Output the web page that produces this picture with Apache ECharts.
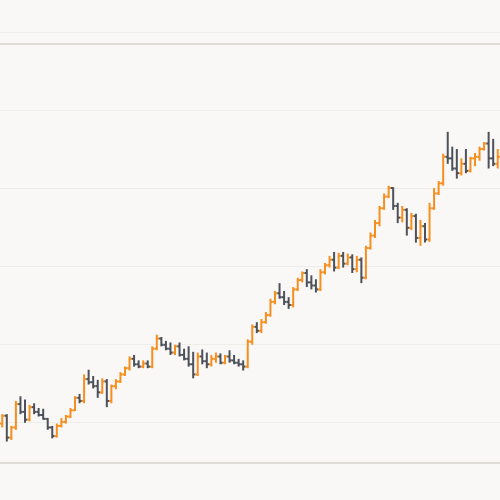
<!DOCTYPE html>
<html>
<head>
<meta charset="utf-8">
<style>
  html, body { margin: 0; padding: 0; background: #f9f8f6; }
  #chart { width: 500px; height: 500px; }
</style>
<script src="https://cdn.jsdelivr.net/npm/echarts@6/dist/echarts.min.js"></script>
</head>
<body>
<div id="chart"></div>
<script>
// OHLC values
const opens = [
  109.8,110.8,108.0,109.3,112.3,111.3,110.3,111.9,111.3,110.9,
  110.4,109.3,108.2,109.5,110.0,110.7,111.5,113.1,112.7,115.5,
  115.1,114.6,113.8,115.2,112.7,114.6,115.2,116.1,116.9,118.1,
  117.4,117.1,117.5,117.1,119.4,120.7,119.9,119.4,118.9,119.7,
  118.6,118.1,117.4,116.1,118.4,117.8,117.4,118.1,118.4,117.6,
  118.4,117.9,117.6,117.4,117.1,120.3,122.2,121.7,122.8,123.7,
  125.4,126.5,126.0,125.4,125.0,127.0,128.2,129.1,127.9,127.5,
  127.0,129.2,130.1,130.8,129.8,131.3,130.3,131.1,129.6,130.8,
  128.5,132.3,133.9,135.5,137.4,138.9,140.0,137.7,136.2,137.2,
  134.9,136.4,133.6,135.1,133.4,137.4,139.3,140.6,144.0,143.8,
  142.5,141.9,143.1,142.2,143.8,144.0,145.0,145.7,143.8,143.1
];
const closes = [
  110.8,108.0,109.3,112.3,111.3,110.3,111.9,111.3,110.9,110.4,
  109.3,108.2,109.5,110.0,110.7,111.5,113.1,112.7,115.5,115.1,
  114.6,113.8,115.2,112.7,114.6,115.2,116.1,116.9,118.1,117.4,
  117.1,117.5,117.1,119.4,120.7,119.9,119.4,118.9,119.7,118.6,
  118.1,117.4,116.1,118.4,117.8,117.4,118.1,118.4,117.6,118.4,
  117.9,117.6,117.4,117.1,120.3,122.2,121.7,122.8,123.7,125.4,
  126.5,126.0,125.4,125.0,127.0,128.2,129.1,127.9,127.5,127.0,
  129.2,130.1,130.8,129.8,131.3,130.3,131.1,129.6,130.8,128.5,
  132.3,133.9,135.5,137.4,138.9,140.0,137.7,136.2,137.2,134.9,
  136.4,133.6,135.1,133.4,137.4,139.3,140.6,144.0,143.8,142.5,
  141.9,143.1,142.2,143.8,144.0,145.0,145.7,143.8,143.1,144.0
];
const lows = [
  109.3,107.5,107.7,109.0,111.0,109.9,110.1,111.0,110.7,110.3,
  109.0,107.9,108.0,109.3,109.8,110.5,111.4,112.4,112.4,114.8,
  114.3,113.1,113.6,111.9,112.4,114.2,115.0,115.9,116.6,117.1,
  116.9,116.9,116.9,116.9,119.2,119.7,119.2,118.6,118.6,118.4,
  117.9,117.1,115.6,115.9,117.4,116.9,117.1,117.6,117.4,117.4,
  117.6,117.4,117.1,116.6,116.9,119.9,121.4,121.4,122.6,123.5,
  125.1,125.8,125.0,124.5,124.7,126.8,127.9,127.3,127.0,126.6,
  126.8,128.9,129.8,129.3,129.6,129.8,130.1,129.1,129.2,127.8,
  128.3,132.1,133.6,135.1,137.2,138.7,137.2,135.5,135.6,133.9,
  134.6,133.0,132.6,133.0,133.1,137.2,139.1,140.3,143.1,142.2,
  141.2,141.6,141.9,142.0,142.8,143.5,144.8,142.5,142.8,142.5
];
const highs = [
  111.0,111.0,109.5,112.7,113.3,112.9,112.2,112.4,111.8,111.7,
  110.5,109.5,109.8,110.5,110.9,111.8,113.3,113.6,116.1,116.7,
  115.9,115.4,115.6,115.5,114.8,115.5,116.4,117.1,118.4,118.6,
  117.9,117.9,117.9,119.7,121.2,120.9,120.4,120.2,119.9,120.2,
  119.4,119.7,119.0,118.9,119.3,118.9,118.6,118.9,118.8,118.6,
  119.2,118.6,118.1,117.9,120.6,122.5,122.8,123.2,124.1,125.8,
  126.8,127.8,126.8,126.0,127.3,128.5,129.3,129.6,128.8,128.3,
  129.6,130.4,131.3,131.8,131.7,131.8,131.6,131.5,131.3,131.1,
  132.6,134.3,135.9,137.7,139.3,140.3,140.1,138.1,137.7,137.4,
  136.8,136.7,135.9,135.5,138.1,140.0,140.9,144.4,147.2,145.3,
  145.0,143.8,145.0,144.0,144.5,145.3,145.9,147.2,146.3,145.0
];
const yTicks = { min: 100, max: 160, interval: 10 };

const UP = '#f68f1f';
const DOWN = '#4d515a';

const categories = opens.map((_, i) => String(i + 1));
const ohlcData = opens.map((o, i) => [i, o, closes[i], lows[i], highs[i]]);

const chart = echarts.init(document.getElementById('chart'), null, { renderer: 'canvas' });

chart.setOption({
  backgroundColor: '#f9f8f6',
  animation: false,
  grid: [
    { left: -2, right: -2, top: 32, bottom: -5, containLabel: false },
    { left: 0, right: 0, top: 44, bottom: 37, containLabel: false }
  ],
  xAxis: [
    {
      type: 'category', gridIndex: 0, data: categories, boundaryGap: true,
      axisLine: { show: false }, axisTick: { show: false }, axisLabel: { show: false },
      splitLine: { show: false }
    },
    {
      type: 'category', gridIndex: 1, data: ['a'], position: 'bottom',
      axisLine: { show: true, lineStyle: { color: '#dfdcd8', width: 2 } },
      axisTick: { show: false }, axisLabel: { show: false }, splitLine: { show: false }
    },
    {
      type: 'category', gridIndex: 1, data: ['a'], position: 'top',
      axisLine: { show: true, lineStyle: { color: '#dfdcd8', width: 2 } },
      axisTick: { show: false }, axisLabel: { show: false }, splitLine: { show: false }
    }
  ],
  yAxis: [
    {
      type: 'value', gridIndex: 0, min: yTicks.min, max: yTicks.max, interval: yTicks.interval,
      axisLine: { show: false }, axisTick: { show: false }, axisLabel: { show: false },
      splitLine: { show: true, lineStyle: { color: '#efedea', width: 1 } }
    },
    {
      type: 'value', gridIndex: 1, min: 0, max: 1,
      axisLine: { show: false }, axisTick: { show: false }, axisLabel: { show: false },
      splitLine: { show: false }
    }
  ],
  series: [{
    type: 'custom',
    xAxisIndex: 0,
    yAxisIndex: 0,
    data: ohlcData,
    encode: { x: 0, y: [1, 2, 3, 4] },
    clip: true,
    renderItem: function (params, api) {
      const idx = api.value(0);
      const o = api.value(1), c = api.value(2), l = api.value(3), h = api.value(4);
      const pO = api.coord([idx, o]);
      const pC = api.coord([idx, c]);
      const pL = api.coord([idx, l]);
      const pH = api.coord([idx, h]);
      const band = api.size([1, 0])[0];
      const half = band * 0.5;
      const color = c >= o ? UP : DOWN;
      const style = { stroke: color, lineWidth: 2, fill: null };
      return {
        type: 'group',
        children: [
          { type: 'line', shape: { x1: pH[0], y1: pH[1], x2: pL[0], y2: pL[1] }, style: style },
          { type: 'line', shape: { x1: pO[0] - half, y1: pO[1], x2: pO[0], y2: pO[1] }, style: style },
          { type: 'line', shape: { x1: pC[0], y1: pC[1], x2: pC[0] + half, y2: pC[1] }, style: style }
        ]
      };
    }
  }]
});
</script>
</body>
</html>
